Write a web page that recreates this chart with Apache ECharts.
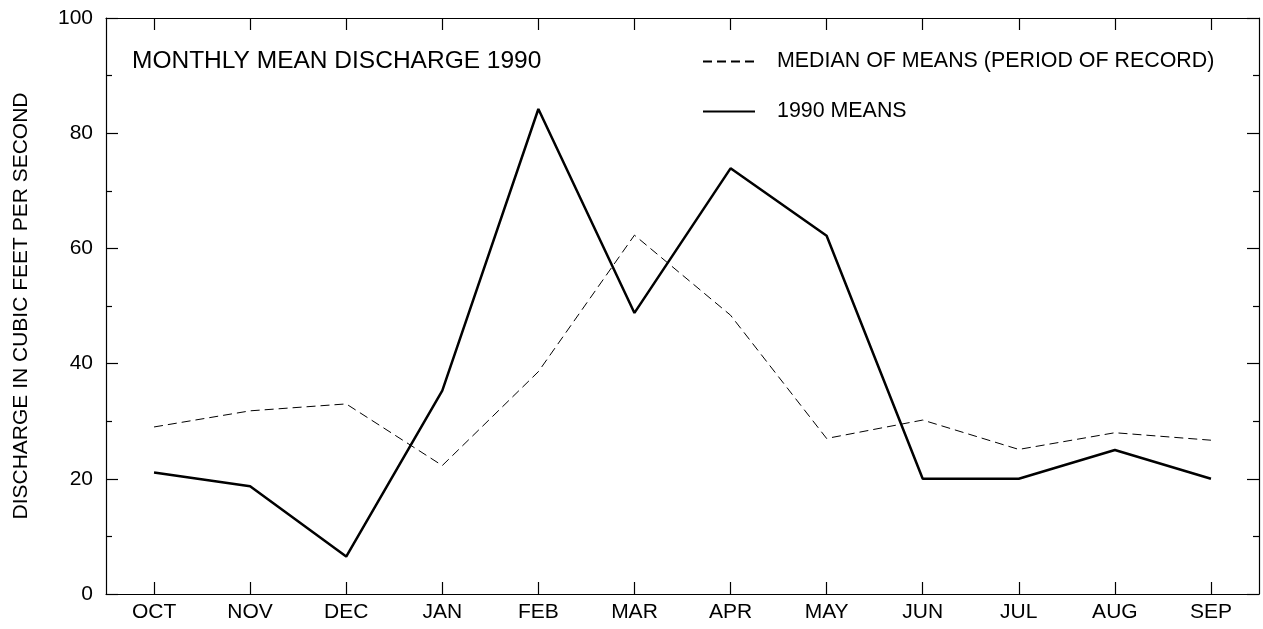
<!DOCTYPE html>
<html>
<head>
<meta charset="utf-8">
<script src="https://cdn.jsdelivr.net/npm/echarts@6/dist/echarts.min.js"></script>
<style>
  html, body { margin: 0; padding: 0; background: #fff; }
  #chart { width: 1263px; height: 629px; }
</style>
</head>
<body>
<div id="chart"></div>
<script>
// months of water year
var months = ['OCT', 'NOV', 'DEC', 'JAN', 'FEB', 'MAR', 'APR', 'MAY', 'JUN', 'JUL', 'AUG', 'SEP']
// median of means, period of record
var medianMeans = [29, 31.8, 33, 22.3, 38.6, 62.3, 48.4, 27, 30.2, 25.1, 28, 26.7]
// 1990 monthly means
var means1990 = [21.1, 18.7, 6.5, 35.3, 84.2, 48.8, 73.9, 62.2, 20, 20, 25, 20]

var font = 'Liberation Sans, Arial, sans-serif'
var black = { color: '#000', width: 1.2 }
var axisLine = { show: true, onZero: false, lineStyle: black }
var xTick = { show: true, inside: true, alignWithLabel: true, length: 12, lineStyle: black }
var yTick = { show: true, inside: true, length: 12, lineStyle: black }
var yMinor = { show: true, splitNumber: 2, length: 6, lineStyle: black }

var dom = echarts.init(document.getElementById('chart'))
var option = {
  animation: false,
  title: {
    text: 'MONTHLY MEAN DISCHARGE 1990',
    left: 132,
    top: 49,
    padding: 0,
    textStyle: { fontFamily: font, fontSize: 24.5, fontWeight: 'normal', color: '#000' }
  },
  legend: {
    orient: 'vertical',
    left: 702,
    top: 51,
    padding: 0,
    itemWidth: 52,
    itemHeight: 20,
    itemGap: 29,
    itemStyle: { opacity: 0 },
    textStyle: { fontFamily: font, fontSize: 21.4, color: '#000', padding: [0, 0, 0, 17] },
    data: ['MEDIAN OF MEANS (PERIOD OF RECORD)', '1990 MEANS']
  },
  grid: { left: 106, right: 4, top: 18, bottom: 35 },
  xAxis: [
    {
      type: 'category',
      data: months,
      boundaryGap: true,
      axisLine: axisLine,
      axisTick: xTick,
      axisLabel: { fontFamily: font, fontSize: 21, color: '#000', margin: 8 },
      splitLine: { show: false }
    },
    {
      type: 'category',
      position: 'top',
      data: months,
      boundaryGap: true,
      axisLine: axisLine,
      axisTick: xTick,
      axisLabel: { show: false },
      splitLine: { show: false }
    }
  ],
  yAxis: [
    {
      type: 'value',
      min: 0,
      max: 100,
      interval: 20,
      name: 'DISCHARGE IN CUBIC FEET PER SECOND',
      nameLocation: 'middle',
      nameGap: 74,
      nameTextStyle: { fontFamily: font, fontSize: 21, color: '#000' },
      axisLine: axisLine,
      axisTick: yTick,
      minorTick: yMinor,
      axisLabel: { fontFamily: font, fontSize: 21, color: '#000', margin: 13 },
      splitLine: { show: false }
    },
    {
      type: 'value',
      position: 'right',
      min: 0,
      max: 100,
      interval: 20,
      axisLine: axisLine,
      axisTick: yTick,
      minorTick: yMinor,
      axisLabel: { show: false },
      splitLine: { show: false }
    }
  ],
  series: [
    {
      name: 'MEDIAN OF MEANS (PERIOD OF RECORD)',
      type: 'line',
      data: medianMeans,
      symbol: 'none',
      color: '#000',
      lineStyle: { color: '#000', width: 1, type: [9, 5] }
    },
    {
      name: '1990 MEANS',
      type: 'line',
      data: means1990,
      symbol: 'none',
      color: '#000',
      lineStyle: { color: '#000', width: 2.5 }
    }
  ]
}
dom.setOption(option)
</script>
</body>
</html>
